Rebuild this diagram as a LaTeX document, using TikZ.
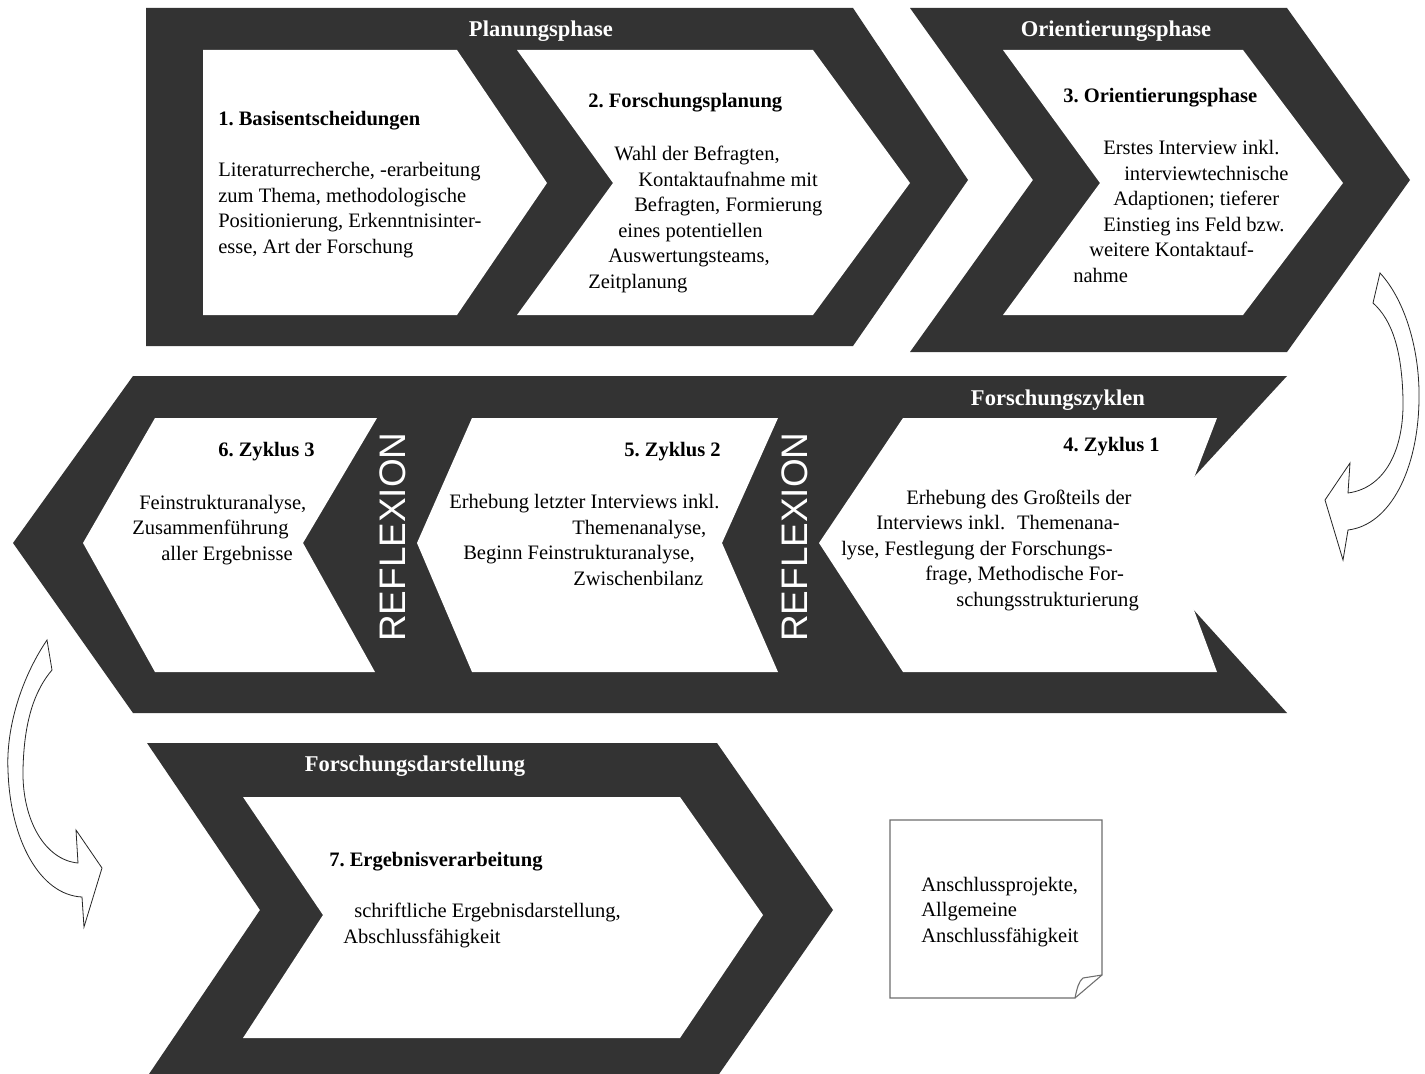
\documentclass[tikz,border=0pt]{standalone}
\usepackage{fontspec}
\setmainfont{Liberation Serif}
\newfontfamily\reflfont{Liberation Sans}
\usepackage{xcolor}
\definecolor{bandgray}{RGB}{51,51,51}
\definecolor{notegray}{RGB}{110,110,110}

\begin{document}
\begin{tikzpicture}[x=0.75pt,y=0.75pt,yscale=-1,xscale=1,
  band/.style={fill=bandgray},
  inbox/.style={fill=white},
  ttl/.style={text=white,font=\fontsize{16.9}{20}\selectfont\bfseries,inner sep=0.75pt},
  hd/.style={font=\fontsize{15.4}{19.1}\selectfont\bfseries,inner sep=0.75pt,anchor=base west},
  txt/.style={font=\fontsize{15.4}{19.1}\selectfont,inner sep=0.75pt,anchor=base west,align=left},
  refl/.style={text=white,font=\reflfont\fontsize{27.7}{30}\selectfont,rotate=90,inner sep=0pt},
  bendarrow/.style={draw=black!85,fill=white,line width=0.6pt,line join=miter},
  notebox/.style={draw=notegray,line width=0.8pt}]

\useasboundingbox (0,0) rectangle (1425,1074);
\clip (0,0) rectangle (1425,1074);
\fill [white] (0,0) rectangle (1425,1074);

% Planungsphase + Orientierungsphase
\path [band] (146,8) -- (853,8) -- (968,180) -- (853,346) -- (146,346) -- cycle ;
\path [band] (910,8) -- (1287,8) -- (1410,180) -- (1287,352) -- (910,352) -- (1033,180) -- cycle ;
\path [inbox] (203,50) -- (457,50) -- (547,183) -- (457,315) -- (203,315) -- cycle ;
\path [inbox] (517,50) -- (813,50) -- (910,183) -- (813,315) -- (517,315) -- (613,183) -- cycle ;
\path [inbox] (1003,50) -- (1243,50) -- (1343,183) -- (1243,315) -- (1003,315) -- (1100,183) -- cycle ;

% Forschungszyklen
\path [band] (133,376) -- (1287,376) -- (1133,543) -- (1287,713) -- (133,713) -- (13,543) -- cycle ;
\path [inbox] (903,418) -- (1217,418) -- (1169,543) -- (1217,672) -- (903,672) -- (819,543) -- cycle ;
\path [inbox] (472,418) -- (778,418) -- (722,543) -- (778,672) -- (472,672) -- (417,543) -- cycle ;
\path [inbox] (155,418) -- (377,418) -- (303,543) -- (375,672) -- (155,672) -- (83,543) -- cycle ;

% Forschungsdarstellung
\path [band] (147,743) -- (717,743) -- (833,910) -- (717,1077) -- (147,1077) -- (260,910) -- cycle ;
\path [inbox] (243,797) -- (680,797) -- (763,915) -- (680,1038) -- (243,1038) -- (323,915) -- cycle ;

% curved arrows
\draw [bendarrow] (1380,273) .. controls (1405,300) and (1420,350) .. (1419,400) .. controls (1418,470) and (1390,525) .. (1348,530) -- (1343,560) -- (1325,500) -- (1350,463) -- (1348,493) .. controls (1385,488) and (1404,450) .. (1403,400) .. controls (1402,350) and (1392,320) .. (1373,303) -- cycle ;
\draw [bendarrow] (47,640) .. controls (20,680) and (6,730) .. (8,770) .. controls (10,840) and (40,895) .. (82,897) -- (84,927) -- (102,868) -- (76,830) -- (78,863) .. controls (45,860) and (22,820) .. (23,770) .. controls (24,720) and (35,690) .. (52,670) -- cycle ;

% note
\draw [notebox] (890,820) -- (1102,820) -- (1102,975) -- (1075,998) -- (890,998) -- cycle ;
\draw [notebox] (1075,998) .. controls (1077,988) and (1079,981) .. (1083,978) -- (1102,975) ;

\draw (541,31) node [ttl] (p1) {Planungsphase};
\draw (1116,31) node [ttl] (p2) {Orientierungsphase};
\draw (1058,400) node [ttl] (p3) {Forschungszyklen};
\draw (415,766) node [ttl] (p4) {Forschungsdarstellung};

\draw (393,537) node [refl] (r1) {REFLEXION};
\draw (795,537) node [refl] (r2) {REFLEXION};

% text blocks: base = last line
\draw (217,125) node [hd] (h1) {1.\ Basisentscheidungen};
\draw (217,253) node [txt] (b1) {Literaturrecherche, -erarbeitung\\zum Thema, methodologische\\Positionierung, Erkenntnisinter-\\esse, Art der Forschung};

\draw (587,108) node [hd] (h2) {2.\ Forschungsplanung};
\draw (587,288) node [txt] (b2) {\hspace*{19.5pt}Wahl der Befragten,\\\hspace*{37.5pt}Kontaktaufnahme mit\\\hspace*{34.5pt}Befragten, Formierung\\\hspace*{22.5pt}eines potentiellen\\\hspace*{15pt}Auswertungsteams,\\Zeitplanung};

\draw (1062,103) node [hd] (h3) {3.\ Orientierungsphase};
\draw (1072,282) node [txt] (b3) {\hspace*{22.5pt}Erstes Interview inkl.\\\hspace*{38.25pt}interviewtechnische\\\hspace*{30pt}Adaptionen; tieferer\\\hspace*{22.5pt}Einstieg ins Feld bzw.\\\hspace*{12pt}weitere Kontaktauf-\\nahme};

\draw (1161,451) node [hd,anchor=base east] (h4) {4.\ Zyklus 1};
\draw (840,606) node [txt] (b4) {\hspace*{48.75pt}Erhebung des Großteils der\\\hspace*{26.25pt}Interviews inkl.~ Themenana-\\lyse, Festlegung der Forschungs-\\\hspace*{63pt}frage, Methodische For-\\\hspace*{86.25pt}schungsstrukturierung};

\draw (623,456) node [hd] (h5) {5.\ Zyklus 2};
\draw (448,585) node [txt] (b5) {Erhebung letzter Interviews inkl.\\\hspace*{92.25pt}Themenanalyse,\\\hspace*{10.5pt}Beginn Feinstrukturanalyse,\\\hspace*{93pt}Zwischenbilanz};

\draw (217,456) node [hd] (h6) {6.\ Zyklus 3};
\draw (131,560) node [txt] (b6) {\hspace*{5.25pt}Feinstrukturanalyse,\\Zusammenführung\\\hspace*{21.75pt}aller Ergebnisse};

\draw (328,866) node [hd] (h7) {7.\ Ergebnisverarbeitung};
\draw (342,943) node [txt] (b7) {\hspace*{8.25pt}schriftliche Ergebnisdarstellung,\\Abschlussfähigkeit};

\draw (920,942) node [txt] (n1) {Anschlussprojekte,\\Allgemeine\\Anschlussfähigkeit};

\end{tikzpicture}
\end{document}
